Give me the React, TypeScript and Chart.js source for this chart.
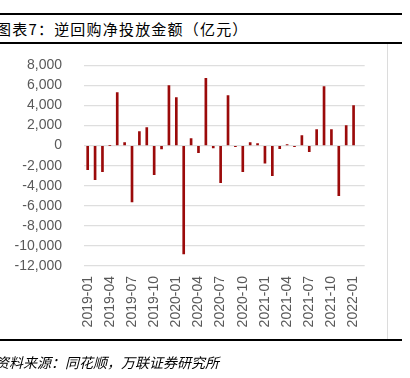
import React, { useEffect, useRef } from "react";
import { Chart, registerables } from "chart.js";

Chart.register(...registerables);

const months: string[] = [
  "2019-01", "2019-02", "2019-03", "2019-04", "2019-05", "2019-06",
  "2019-07", "2019-08", "2019-09", "2019-10", "2019-11", "2019-12",
  "2020-01", "2020-02", "2020-03", "2020-04", "2020-05", "2020-06",
  "2020-07", "2020-08", "2020-09", "2020-10", "2020-11", "2020-12",
  "2021-01", "2021-02", "2021-03", "2021-04", "2021-05", "2021-06",
  "2021-07", "2021-08", "2021-09", "2021-10", "2021-11", "2021-12",
  "2022-01", "2022-02",
];

const netInjection: (number | null)[] = [
  -2400, -3400, -2600, 0, 5300, 300,
  -5600, 1400, 1800, -2900, -330, 6000,
  4800, -10800, 700, -700, 6700, -230,
  -3700, 5000, -100, -2600, 300, 200,
  -1750, -3000, -300, 100, -100, 1000,
  -600, 1600, 5900, 1600, -5000, 2000,
  4000, null,
];

const yMin = -12000;
const yMax = 8000;
const yStep = 2000;

const titleText = "图表7：逆回购净投放金额（亿元）";
const sourceText = "资料来源：同花顺，万联证券研究所";

export default function App() {
  const canvasRef = useRef<HTMLCanvasElement | null>(null);

  useEffect(() => {
    if (!canvasRef.current) return;
    const chart = new Chart(canvasRef.current, {
      type: "bar",
      data: {
        labels: months,
        datasets: [
          {
            label: "逆回购净投放金额",
            data: netInjection,
            backgroundColor: "#9b0a0a",
            borderWidth: 0,
            barThickness: 2,
          },
        ],
      },
      options: {
        responsive: false,
        animation: false,
        maintainAspectRatio: false,
        layout: { padding: { top: 6, right: 18, left: 0, bottom: 0 } },
        plugins: {
          legend: { display: false },
          tooltip: { enabled: false },
          title: { display: false },
        },
        scales: {
          x: {
            offset: true,
            grid: { display: false, drawTicks: false },
            border: { display: false },
            ticks: {
              autoSkip: false,
              minRotation: 90,
              maxRotation: 90,
              padding: 10,
              color: "#595959",
              font: { family: "'Liberation Sans', Arial, sans-serif", size: 14 },
              callback: function (_v: any, i: number) {
                return i % 3 === 0 ? months[i] : "";
              },
            },
            afterFit: (s: any) => {
              s.height = 74;
            },
          },
          y: {
            min: yMin,
            max: yMax,
            grid: { color: "#dedede", lineWidth: 1.3, drawTicks: false },
            border: { display: false },
            ticks: {
              autoSkip: false,
              stepSize: yStep,
              padding: 22,
              color: "#595959",
              font: { family: "'Liberation Sans', Arial, sans-serif", size: 14 },
              callback: (v: any) => Number(v).toLocaleString("en-US"),
            },
            afterFit: (s: any) => {
              s.width = 84;
            },
          },
        },
      },
    });
    return () => chart.destroy();
  }, []);

  return (
    <div
      style={{
        position: "absolute",
        left: 0,
        top: 0,
        width: 410,
        height: 378,
        background: "#fff",
        overflow: "hidden",
        fontFamily: "'Noto Sans CJK SC', sans-serif",
      }}
    >
      <div style={{ position: "absolute", left: 0, top: 13, width: 402, height: 2, background: "#000" }} />
      <div
        style={{
          position: "absolute",
          left: -4,
          top: 17,
          height: 24,
          lineHeight: "24px",
          fontSize: 15,
          letterSpacing: 1.2,
          color: "#000",
          whiteSpace: "nowrap",
        }}
      >
        {titleText}
      </div>
      <div style={{ position: "absolute", left: 0, top: 42, width: 402, height: 2, background: "#000" }} />
      <div style={{ position: "absolute", left: 387, top: 44, width: 1, height: 295, background: "#dcdcdc" }} />
      <canvas
        ref={canvasRef}
        width={388}
        height={305}
        style={{ position: "absolute", left: 0, top: 35, width: 388, height: 305 }}
      />
      <div style={{ position: "absolute", left: 0, top: 339, width: 402, height: 2, background: "#000" }} />
      <div
        style={{
          position: "absolute",
          left: -5,
          top: 352,
          height: 20,
          lineHeight: "20px",
          fontSize: 14,
          fontStyle: "italic",
          color: "#000",
          whiteSpace: "nowrap",
        }}
      >
        {sourceText}
      </div>
    </div>
  );
}
